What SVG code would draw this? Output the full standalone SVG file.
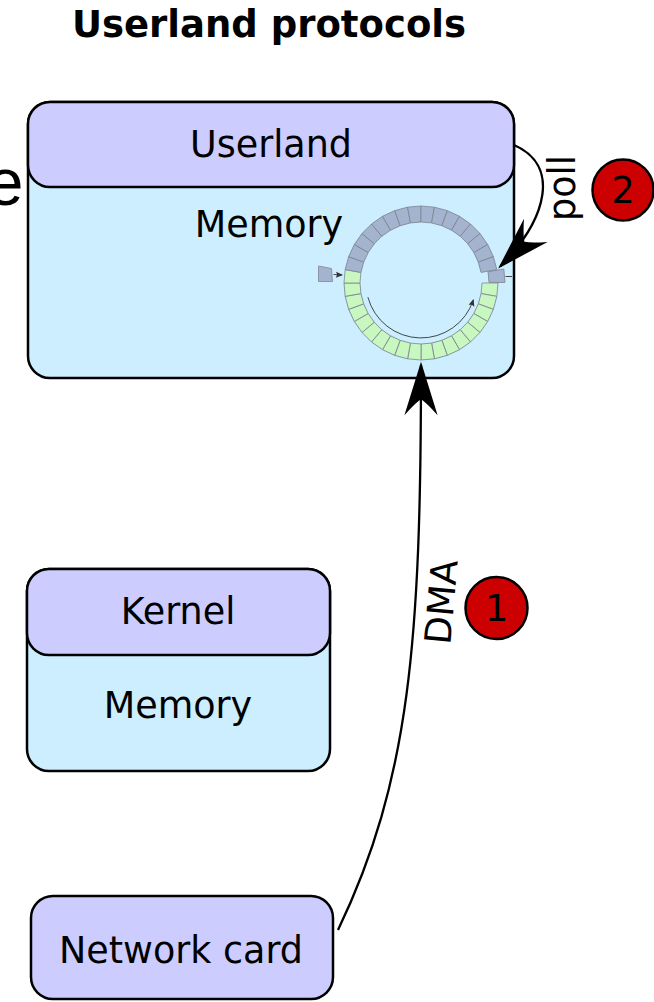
<svg xmlns="http://www.w3.org/2000/svg" xmlns:xlink="http://www.w3.org/1999/xlink" width="654" height="1002" viewBox="0 0 654 1002">
<style>
.box{stroke:#000;stroke-width:2.5}
.hdr{fill:#ccccff}
.body{fill:#cceeff}
.t{font-family:"DejaVu Sans",sans-serif;font-size:36.5px;fill:#000;text-anchor:middle}
.title{font-family:"DejaVu Sans",sans-serif;font-weight:bold;font-size:37px;fill:#000;text-anchor:middle}
.g{fill:#c8f7c0}
.b{fill:#a4b4ce}
.seg{stroke:#7d8794;stroke-width:0.8}
.conn{fill:none;stroke:#000;stroke-width:2.3}
.badge{fill:#cc0000;stroke:#000;stroke-width:2.5}
.thin{fill:none;stroke:#333;stroke-width:0.9}
</style>
<defs>
<path id="seg" d="M482,283 L498,283 L496.83,296.37 L481.07,293.59 Z"/>
<marker id="big" markerUnits="userSpaceOnUse" markerWidth="60" markerHeight="40" viewBox="-50 -18 56 36" refX="0" refY="0" orient="auto">
<path d="M3,0 L-47,-15.5 Q-35,-5 -32,0 Q-35,5 -47,15.5 Z" fill="#000"/>
</marker>
<marker id="small" markerUnits="userSpaceOnUse" markerWidth="10" markerHeight="8" viewBox="-7 -4 8 8" refX="0" refY="0" orient="auto">
<path d="M1,0 L-6,-3 L-5,0 L-6,3 Z" fill="#333"/>
</marker>
</defs>
<rect width="654" height="1002" fill="#fff"/>
<text x="269" y="37" class="title">Userland protocols</text>
<text x="23.5" y="205" font-family="'Liberation Sans',Arial,sans-serif" font-size="66" text-anchor="end" fill="#000">e</text>
<g id="userland">
<rect class="box body" x="28" y="102" width="486" height="276" rx="22"/>
<rect class="box hdr" x="28" y="102" width="486" height="85" rx="22"/>
<text class="t" x="271" y="157">Userland</text>
<text class="t" x="269" y="237">Memory</text>
</g>
<g id="ring">
<g class="seg">
<use xlink:href="#seg" class="g" transform="rotate(0 421 283)"/>
<use xlink:href="#seg" class="g" transform="rotate(10 421 283)"/>
<use xlink:href="#seg" class="g" transform="rotate(20 421 283)"/>
<use xlink:href="#seg" class="g" transform="rotate(30 421 283)"/>
<use xlink:href="#seg" class="g" transform="rotate(40 421 283)"/>
<use xlink:href="#seg" class="g" transform="rotate(50 421 283)"/>
<use xlink:href="#seg" class="g" transform="rotate(60 421 283)"/>
<use xlink:href="#seg" class="g" transform="rotate(70 421 283)"/>
<use xlink:href="#seg" class="g" transform="rotate(80 421 283)"/>
<use xlink:href="#seg" class="g" transform="rotate(90 421 283)"/>
<use xlink:href="#seg" class="g" transform="rotate(100 421 283)"/>
<use xlink:href="#seg" class="g" transform="rotate(110 421 283)"/>
<use xlink:href="#seg" class="g" transform="rotate(120 421 283)"/>
<use xlink:href="#seg" class="g" transform="rotate(130 421 283)"/>
<use xlink:href="#seg" class="g" transform="rotate(140 421 283)"/>
<use xlink:href="#seg" class="g" transform="rotate(150 421 283)"/>
<use xlink:href="#seg" class="g" transform="rotate(160 421 283)"/>
<use xlink:href="#seg" class="g" transform="rotate(170 421 283)"/>
<use xlink:href="#seg" class="g" transform="rotate(180 421 283)"/>
<use xlink:href="#seg" class="b" transform="rotate(190 421 283)"/>
<use xlink:href="#seg" class="b" transform="rotate(200 421 283)"/>
<use xlink:href="#seg" class="b" transform="rotate(210 421 283)"/>
<use xlink:href="#seg" class="b" transform="rotate(220 421 283)"/>
<use xlink:href="#seg" class="b" transform="rotate(230 421 283)"/>
<use xlink:href="#seg" class="b" transform="rotate(240 421 283)"/>
<use xlink:href="#seg" class="b" transform="rotate(250 421 283)"/>
<use xlink:href="#seg" class="b" transform="rotate(260 421 283)"/>
<use xlink:href="#seg" class="b" transform="rotate(270 421 283)"/>
<use xlink:href="#seg" class="b" transform="rotate(280 421 283)"/>
<use xlink:href="#seg" class="b" transform="rotate(290 421 283)"/>
<use xlink:href="#seg" class="b" transform="rotate(300 421 283)"/>
<use xlink:href="#seg" class="b" transform="rotate(310 421 283)"/>
<use xlink:href="#seg" class="b" transform="rotate(320 421 283)"/>
<use xlink:href="#seg" class="b" transform="rotate(330 421 283)"/>
<use xlink:href="#seg" class="b" transform="rotate(340 421 283)"/>
<use xlink:href="#seg" class="b" transform="translate(7,-0.6) rotate(350 421 283)"/>
<polygon class="b" points="318.5,266 331.5,268.5 332.5,281.5 318.5,281.5"/>
</g>
<path class="thin" d="M367.9,297.2 A55,55 0 0 0 473.3,300" marker-end="url(#small)"/>
<path class="thin" d="M333.5,274.5 L342,275" marker-end="url(#small)"/>
<path class="thin" d="M505.5,276.5 L512,276.5"/>
</g>
<g id="kernel">
<rect class="box body" x="27" y="569" width="303" height="202" rx="22"/>
<rect class="box hdr" x="27" y="569" width="303" height="86" rx="22"/>
<text class="t" x="178" y="624">Kernel</text>
<text class="t" x="178" y="718">Memory</text>
</g>
<g id="networkcard">
<rect class="box hdr" x="31" y="896" width="302" height="103" rx="22"/>
<text class="t" x="181" y="963">Network card</text>
</g>
<g id="connectors">
<path class="conn" d="M338,930 C410,780 421,640 421,365" marker-end="url(#big)"/>
<path class="conn" d="M514,145 C560,165 548,218 500.4,266.2" marker-end="url(#big)"/>
<text class="t" x="454" y="603" transform="rotate(-85 454 603)">DMA</text>
<text class="t" x="575" y="188" transform="rotate(-90 575 188)">poll</text>
</g>
<g id="badge1">
<circle class="badge" cx="496.5" cy="608" r="31"/>
<text class="t" x="496.5" y="621">1</text>
</g>
<g id="badge2">
<circle class="badge" cx="623" cy="190" r="30.5"/>
<text class="t" x="623" y="203">2</text>
</g>
</svg>
